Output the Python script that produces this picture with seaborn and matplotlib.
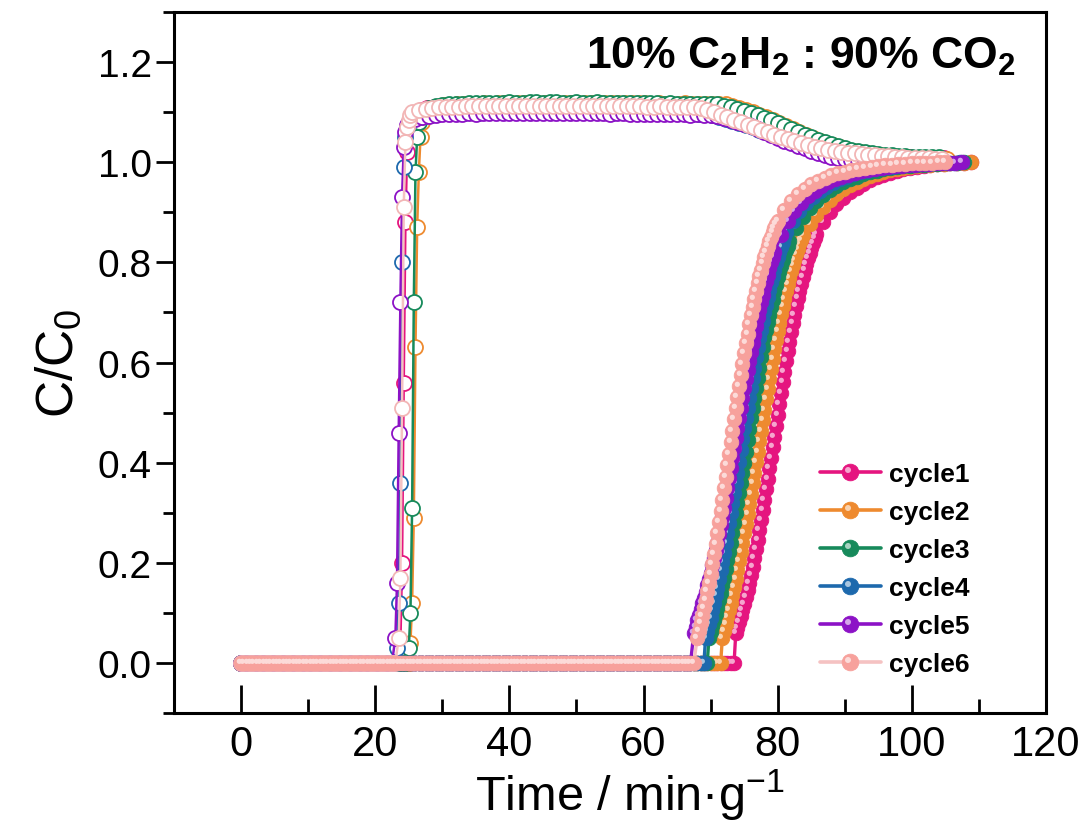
import numpy as np
import pandas as pd
import matplotlib
matplotlib.use("Agg")
import matplotlib.pyplot as plt
import matplotlib.colors as mcolors
from matplotlib.path import Path
from matplotlib.lines import Line2D
from matplotlib.legend_handler import HandlerTuple
from matplotlib.ticker import MultipleLocator, FormatStrFormatter
import seaborn as sns

sns.set_style("ticks")
plt.rcParams["font.family"] = ["Liberation Sans", "DejaVu Sans"]
plt.rcParams["mathtext.default"] = "regular"
for key in ("text.color", "axes.labelcolor", "xtick.color", "ytick.color", "axes.edgecolor"):
    plt.rcParams[key] = "black"

# ---------------------------------------------------------------- data
cycles = ["cycle1", "cycle2", "cycle3", "cycle4", "cycle5", "cycle6"]

# C2H2 outlet (filled symbols): breakthrough time, then 0.25-min rise, then 1-min tail
c2h2_breakthrough = [73.75, 71.75, 69.75, 69.25, 67.5, 68.0]

c2h2_rise_c1 = [0.060, 0.070, 0.082, 0.094, 0.106, 0.118, 0.132, 0.146, 0.160, 0.175,
                0.192, 0.210, 0.228, 0.246, 0.266, 0.286, 0.306, 0.326, 0.347, 0.368,
                0.389, 0.410, 0.431, 0.452, 0.474, 0.496, 0.518, 0.540, 0.561, 0.582,
                0.602, 0.622, 0.641, 0.660, 0.678, 0.695, 0.712, 0.728, 0.743, 0.757,
                0.771, 0.784, 0.796, 0.808, 0.819, 0.829, 0.839, 0.848]
c2h2_tail_c1 = [0.857, 0.880, 0.900, 0.916, 0.929, 0.940, 0.949, 0.957, 0.964, 0.970,
                0.975, 0.979, 0.983, 0.986, 0.989, 0.991, 0.993, 0.995, 0.996, 0.997,
                0.998, 0.999, 0.999, 1.000]

c2h2_rise_c2 = [0.050, 0.063, 0.077, 0.091, 0.105, 0.120, 0.136, 0.152, 0.168, 0.185,
                0.203, 0.221, 0.240, 0.259, 0.278, 0.298, 0.318, 0.338, 0.359, 0.380,
                0.401, 0.422, 0.443, 0.464, 0.485, 0.506, 0.527, 0.548, 0.568, 0.588,
                0.607, 0.626, 0.644, 0.662, 0.679, 0.696, 0.712, 0.727, 0.742, 0.756,
                0.769, 0.782, 0.794, 0.805, 0.816, 0.826, 0.836, 0.845]
c2h2_tail_c2 = [0.854, 0.876, 0.895, 0.911, 0.925, 0.936, 0.946, 0.954, 0.961, 0.967,
                0.972, 0.977, 0.981, 0.984, 0.987, 0.989, 0.991, 0.993, 0.994, 0.995,
                0.996, 0.997, 0.998, 0.999, 0.999, 1.000]

c2h2_rise_c3 = [0.050, 0.062, 0.074, 0.086, 0.098, 0.110, 0.125, 0.140, 0.155, 0.170,
                0.188, 0.205, 0.222, 0.240, 0.260, 0.280, 0.300, 0.320, 0.340, 0.360,
                0.380, 0.400, 0.422, 0.445, 0.468, 0.490, 0.510, 0.530, 0.550, 0.570,
                0.590, 0.610, 0.630, 0.650, 0.665, 0.680, 0.695, 0.710, 0.725, 0.740,
                0.755, 0.770, 0.781, 0.792, 0.804, 0.815, 0.824, 0.833]
c2h2_tail_c3 = [0.842, 0.868, 0.890, 0.908, 0.922, 0.934, 0.944, 0.952, 0.960, 0.966,
                0.971, 0.976, 0.980, 0.983, 0.986, 0.988, 0.990, 0.992, 0.993, 0.994,
                0.995, 0.996, 0.997, 0.998, 0.999, 0.999, 1.000]

c2h2_rise_c4 = [0.050, 0.063, 0.077, 0.090, 0.105, 0.120, 0.135, 0.150, 0.168, 0.185,
                0.202, 0.220, 0.240, 0.260, 0.280, 0.300, 0.320, 0.340, 0.360, 0.380,
                0.402, 0.425, 0.448, 0.470, 0.490, 0.510, 0.530, 0.550, 0.570, 0.590,
                0.610, 0.630, 0.648, 0.665, 0.682, 0.700, 0.715, 0.730, 0.745, 0.760,
                0.772, 0.785, 0.798, 0.810, 0.820, 0.830, 0.840, 0.850]
c2h2_tail_c4 = [0.860, 0.883, 0.902, 0.918, 0.931, 0.942, 0.951, 0.959, 0.966, 0.971,
                0.976, 0.980, 0.983, 0.986, 0.988, 0.990, 0.991, 0.993, 0.994, 0.995,
                0.996, 0.997, 0.998, 0.998, 0.999, 0.999, 1.000]

c2h2_rise_c5 = [0.060, 0.072, 0.085, 0.096, 0.108, 0.119, 0.130, 0.142, 0.155, 0.168,
                0.180, 0.195, 0.210, 0.225, 0.240, 0.258, 0.275, 0.292, 0.310, 0.330,
                0.350, 0.370, 0.390, 0.410, 0.430, 0.450, 0.470, 0.490, 0.510, 0.530,
                0.550, 0.568, 0.585, 0.602, 0.620, 0.638, 0.655, 0.672, 0.690, 0.705,
                0.720, 0.735, 0.750, 0.762, 0.775, 0.788, 0.800, 0.810]
c2h2_tail_c5 = [0.820, 0.855, 0.882, 0.902, 0.918, 0.932, 0.943, 0.952, 0.960, 0.966,
                0.971, 0.975, 0.979, 0.982, 0.985, 0.987, 0.989, 0.990, 0.992, 0.993,
                0.994, 0.995, 0.996, 0.997, 0.998, 0.998, 0.999, 0.999, 1.000]

c2h2_rise_c6 = [0.050, 0.064, 0.079, 0.094, 0.110, 0.126, 0.143, 0.160, 0.178, 0.197,
                0.217, 0.238, 0.259, 0.281, 0.303, 0.326, 0.349, 0.372, 0.395, 0.418,
                0.441, 0.464, 0.487, 0.510, 0.532, 0.554, 0.576, 0.597, 0.618, 0.638,
                0.657, 0.676, 0.694, 0.711, 0.727, 0.743, 0.758, 0.772, 0.785, 0.798,
                0.810, 0.821, 0.832, 0.842, 0.851, 0.860, 0.868, 0.876]
c2h2_tail_c6 = [0.883, 0.905, 0.922, 0.936, 0.947, 0.956, 0.963, 0.969, 0.974, 0.978,
                0.981, 0.984, 0.987, 0.989, 0.991, 0.993, 0.994, 0.995, 0.996, 0.997,
                0.998, 0.998, 0.999, 0.999, 1.000, 1.000]

# CO2 outlet (open symbols): breakthrough time, 0.25-min rise, then 1-min readings
co2_breakthrough = [23.75, 25.25, 25.0, 23.25, 23.0, 23.5]

co2_rise_c1 = [0.04, 0.20, 0.56, 0.88, 1.02, 1.07, 1.085, 1.093]
co2_after_c1 = [1.098, 1.104, 1.108, 1.111, 1.113,
                1.114, 1.114, 1.115, 1.115, 1.116, 1.115, 1.116, 1.116, 1.117, 1.116,
                1.116, 1.117, 1.117, 1.116, 1.117, 1.117, 1.117, 1.116, 1.117, 1.117,
                1.116, 1.116, 1.117, 1.116, 1.116, 1.116, 1.117, 1.116, 1.116, 1.115,
                1.116, 1.115, 1.115, 1.115, 1.114, 1.115, 1.114, 1.114, 1.114, 1.113,
                1.113, 1.110, 1.107, 1.103, 1.099, 1.095, 1.090, 1.085, 1.079, 1.073,
                1.067, 1.061, 1.055, 1.050, 1.045, 1.040, 1.036, 1.032, 1.028, 1.025,
                1.022, 1.020, 1.018, 1.016, 1.014, 1.013, 1.012, 1.011, 1.010, 1.010,
                1.009, 1.009, 1.008, 1.008, 1.008]

co2_rise_c2 = [0.04, 0.12, 0.29, 0.63, 0.87, 0.98, 1.05, 1.08]
co2_after_c2 = [1.095, 1.105, 1.111, 1.114,
                1.115, 1.116, 1.116, 1.117, 1.117, 1.118, 1.117, 1.118, 1.118, 1.119,
                1.118, 1.118, 1.119, 1.119, 1.118, 1.119, 1.119, 1.119, 1.118, 1.119,
                1.119, 1.118, 1.118, 1.119, 1.118, 1.118, 1.119, 1.118, 1.118, 1.118,
                1.117, 1.118, 1.117, 1.117, 1.117, 1.118, 1.117, 1.117, 1.116, 1.117,
                1.116,
                1.116, 1.113, 1.109, 1.105, 1.100, 1.095, 1.090, 1.084, 1.078, 1.072,
                1.066, 1.060, 1.054, 1.048, 1.043, 1.038, 1.034, 1.030, 1.026, 1.023,
                1.020, 1.018, 1.016, 1.014, 1.013, 1.012, 1.011, 1.010, 1.009, 1.009,
                1.008, 1.008, 1.008, 1.007]

co2_rise_c3 = [0.03, 0.10, 0.31, 0.72, 0.98, 1.05, 1.08, 1.09]
co2_after_c3 = [1.100, 1.108, 1.112, 1.115,
                1.116, 1.117, 1.117, 1.118, 1.118, 1.119, 1.118, 1.119, 1.119, 1.120,
                1.119, 1.119, 1.120, 1.120, 1.119, 1.120, 1.120, 1.119, 1.119, 1.120,
                1.119, 1.119, 1.120, 1.119, 1.119, 1.119, 1.118, 1.119, 1.118, 1.118,
                1.118, 1.118, 1.117, 1.118, 1.117, 1.117, 1.117, 1.117, 1.116, 1.116,
                1.116, 1.113, 1.110, 1.106, 1.102, 1.098, 1.094, 1.089, 1.084, 1.079,
                1.073, 1.067, 1.061, 1.055, 1.050, 1.045, 1.040, 1.036, 1.032, 1.028,
                1.025, 1.022, 1.020, 1.018, 1.016, 1.015, 1.014, 1.013, 1.012, 1.011,
                1.011, 1.010, 1.010, 1.010]

co2_rise_c4 = [0.03, 0.12, 0.36, 0.80, 0.99, 1.05, 1.07, 1.08]
co2_after_c4 = [1.085, 1.090, 1.093, 1.095, 1.097,
                1.098, 1.098, 1.099, 1.099, 1.100, 1.099, 1.100, 1.100, 1.101, 1.100,
                1.100, 1.101, 1.101, 1.100, 1.101, 1.101, 1.100, 1.100, 1.101, 1.100,
                1.100, 1.100, 1.101, 1.100, 1.100, 1.099, 1.100, 1.100, 1.099, 1.099,
                1.099, 1.099, 1.098, 1.099, 1.098, 1.098, 1.098, 1.097, 1.097,
                1.097, 1.094, 1.091, 1.087, 1.083, 1.079, 1.075, 1.070, 1.065, 1.060,
                1.055, 1.050, 1.045, 1.040, 1.035, 1.031, 1.027, 1.023, 1.019, 1.016,
                1.013, 1.011, 1.009, 1.008, 1.007, 1.006, 1.005, 1.005, 1.004, 1.004,
                1.003, 1.003, 1.003, 1.002, 1.002, 1.002]

co2_rise_c5 = [0.05, 0.16, 0.46, 0.72, 0.93, 1.03, 1.06, 1.075]
co2_after_c5 = [1.080, 1.086, 1.090, 1.093, 1.095,
                1.096, 1.096, 1.097, 1.097, 1.098, 1.097, 1.098, 1.098, 1.099, 1.098,
                1.098, 1.099, 1.099, 1.098, 1.099, 1.099, 1.098, 1.098, 1.099, 1.098,
                1.098, 1.098, 1.099, 1.098, 1.098, 1.097, 1.098, 1.098, 1.097, 1.097,
                1.097, 1.097, 1.096, 1.097, 1.096, 1.096, 1.096, 1.095, 1.096, 1.095,
                1.095, 1.092, 1.088, 1.084, 1.080, 1.076, 1.072, 1.066, 1.060, 1.054,
                1.049, 1.043, 1.038, 1.032, 1.028, 1.023, 1.018, 1.014, 1.011, 1.008,
                1.006, 1.005, 1.004, 1.003, 1.003, 1.002, 1.002, 1.002, 1.001, 1.001,
                1.001, 1.001, 1.000, 1.000, 1.000]

co2_rise_c6 = [0.05, 0.17, 0.51, 0.91, 1.04, 1.07, 1.085, 1.095]
co2_after_c6 = [1.100, 1.104, 1.107, 1.109, 1.110,
                1.110, 1.111, 1.111, 1.112, 1.112, 1.112, 1.113, 1.112, 1.112, 1.113,
                1.113, 1.112, 1.112, 1.113, 1.113, 1.113, 1.112, 1.112, 1.113, 1.113,
                1.112, 1.112, 1.113, 1.112, 1.112, 1.112, 1.113, 1.112, 1.112, 1.112,
                1.111, 1.111, 1.112, 1.111, 1.111, 1.111, 1.110, 1.110,
                1.108, 1.104, 1.100, 1.095, 1.090, 1.085, 1.080, 1.075, 1.070, 1.065,
                1.060, 1.055, 1.050, 1.046, 1.042, 1.038, 1.034, 1.031, 1.028, 1.025,
                1.023, 1.021, 1.019, 1.018, 1.017, 1.015, 1.014, 1.013, 1.012, 1.011,
                1.010, 1.009, 1.009, 1.008, 1.008, 1.007, 1.007]

c2h2_rise = [c2h2_rise_c1, c2h2_rise_c2, c2h2_rise_c3, c2h2_rise_c4, c2h2_rise_c5, c2h2_rise_c6]
c2h2_tail = [c2h2_tail_c1, c2h2_tail_c2, c2h2_tail_c3, c2h2_tail_c4, c2h2_tail_c5, c2h2_tail_c6]
co2_rise = [co2_rise_c1, co2_rise_c2, co2_rise_c3, co2_rise_c4, co2_rise_c5, co2_rise_c6]
co2_after = [co2_after_c1, co2_after_c2, co2_after_c3, co2_after_c4, co2_after_c5, co2_after_c6]

x_ticks = [0, 20, 40, 60, 80, 100, 120]
y_ticks = [0.0, 0.2, 0.4, 0.6, 0.8, 1.0, 1.2]

# ---------------------------------------------------------------- styling
line_colors = ["#E5157F", "#EE8A2F", "#178A5B", "#1D69AD", "#8C12C6", "#F5C2C2"]
ball_colors = ["#E5157F", "#EE8A2F", "#178A5B", "#1D69AD", "#8C12C6", "#F7A19C"]
ring_colors = ["#E5157F", "#EE8A2F", "#178A5B", "#1D69AD", "#8C12C6", "#F2B6B6"]


def lighten(c, f):
    r, g, b = mcolors.to_rgb(c)
    return (r + (1 - r) * f, g + (1 - g) * f, b + (1 - b) * f)


# off-centre glint drawn over each sphere (corner moves keep the marker scale)
_circ = Path.circle(center=(-0.30, 0.30), radius=0.36)
glint_marker = Path(
    np.vstack([[[-1.0, -1.0], [1.0, 1.0]], _circ.vertices]),
    np.concatenate([[Path.MOVETO, Path.MOVETO], _circ.codes]),
)

BALL_MS = 10.5
RING_MS = 10.8


def c2h2_frame(i):
    tb = c2h2_breakthrough[i]
    t0 = np.arange(0.0, tb, 0.5)
    t1 = tb + 0.25 * np.arange(len(c2h2_rise[i]))
    t2 = tb + 0.25 * len(c2h2_rise[i]) + np.arange(len(c2h2_tail[i]))
    t = np.concatenate([t0, t1, t2])
    v = np.concatenate([np.zeros(len(t0)), c2h2_rise[i], c2h2_tail[i]])
    return pd.DataFrame({"time": t, "ratio": v})


def co2_frame(i):
    tc = co2_breakthrough[i]
    t0 = np.arange(0.0, tc, 0.5)
    t1 = tc + 0.25 * np.arange(len(co2_rise[i]))
    t2 = tc + 0.25 * len(co2_rise[i]) + np.arange(len(co2_after[i]))
    t = np.concatenate([t0, t1, t2])
    v = np.concatenate([np.zeros(len(t0)), co2_rise[i], co2_after[i]])
    return pd.DataFrame({"time": t, "ratio": v})


fig = plt.figure(figsize=(10.86, 8.28), dpi=100)
ax = fig.add_axes([174 / 1086, 1 - 714 / 828, 872 / 1086, 701 / 828])

for i in range(len(cycles)):
    dco2 = co2_frame(i)
    sns.lineplot(data=dco2, x="time", y="ratio", ax=ax, estimator=None, sort=False,
                 color=line_colors[i], linewidth=1.8, marker="o",
                 markersize=RING_MS, markerfacecolor="white",
                 markeredgecolor=ring_colors[i], markeredgewidth=1.3, legend=False)
    dc2 = c2h2_frame(i)
    sns.lineplot(data=dc2, x="time", y="ratio", ax=ax, estimator=None, sort=False,
                 color=line_colors[i], linewidth=2.4, marker="o",
                 markersize=BALL_MS, markerfacecolor=ball_colors[i],
                 markeredgecolor=ball_colors[i], markeredgewidth=0.6, legend=False)
    sns.lineplot(data=dc2, x="time", y="ratio", ax=ax, estimator=None, sort=False,
                 linestyle="none", marker=glint_marker, markersize=BALL_MS,
                 markerfacecolor=lighten(ball_colors[i], 0.62),
                 markeredgecolor="none", markeredgewidth=0, legend=False)

ax.set_xlim(-10, 120)
ax.set_ylim(-0.1, 1.3)
ax.set_xticks(x_ticks)
ax.set_xticklabels([str(x) for x in x_ticks], fontsize=30)
ax.set_yticks(y_ticks)
ax.yaxis.set_major_formatter(FormatStrFormatter("%.1f"))
ax.xaxis.set_minor_locator(MultipleLocator(10))
ax.yaxis.set_minor_locator(MultipleLocator(0.1))
ax.tick_params(axis="x", which="major", direction="in", length=20, width=2.0, pad=8)
ax.tick_params(axis="x", which="minor", direction="in", length=10, width=2.0)
ax.tick_params(axis="y", which="major", direction="out", length=13, width=2.0,
               labelsize=28, pad=3)
ax.tick_params(axis="y", which="minor", direction="out", length=8, width=2.0)
for s in ax.spines.values():
    s.set_linewidth(2.2)
    s.set_color("black")

ax.set_xlabel("Time / min·g$^{-1}$", fontsize=35, labelpad=2)
ax.xaxis.label.set_x(0.523)
ax.set_ylabel("C/C$_0$", fontsize=37, labelpad=10)

ax.text(0.965, 0.968, "10% C$_2$H$_2$ : 90% CO$_2$", transform=ax.transAxes,
        ha="right", va="top", fontsize=32, fontweight="bold")

handles = []
for i in range(len(cycles)):
    h_ball = Line2D([], [], color=line_colors[i], linewidth=2.6, marker="o",
                    markersize=12, markerfacecolor=ball_colors[i],
                    markeredgecolor=ball_colors[i], markeredgewidth=0.6)
    h_glint = Line2D([], [], linestyle="none", marker=glint_marker, markersize=12,
                     markerfacecolor=lighten(ball_colors[i], 0.62),
                     markeredgecolor="none")
    handles.append((h_ball, h_glint))

ax.legend(handles, cycles, handler_map={tuple: HandlerTuple(ndivide=1, pad=0)},
          loc="upper left", bbox_to_anchor=(820 / 1086, 1 - 463 / 828),
          bbox_transform=fig.transFigure, frameon=False, borderpad=0,
          borderaxespad=0, handlelength=2.3, handletextpad=0.3, labelspacing=0.53,
          prop={"weight": "bold", "size": 19})

fig.savefig("out.png", dpi=100)
